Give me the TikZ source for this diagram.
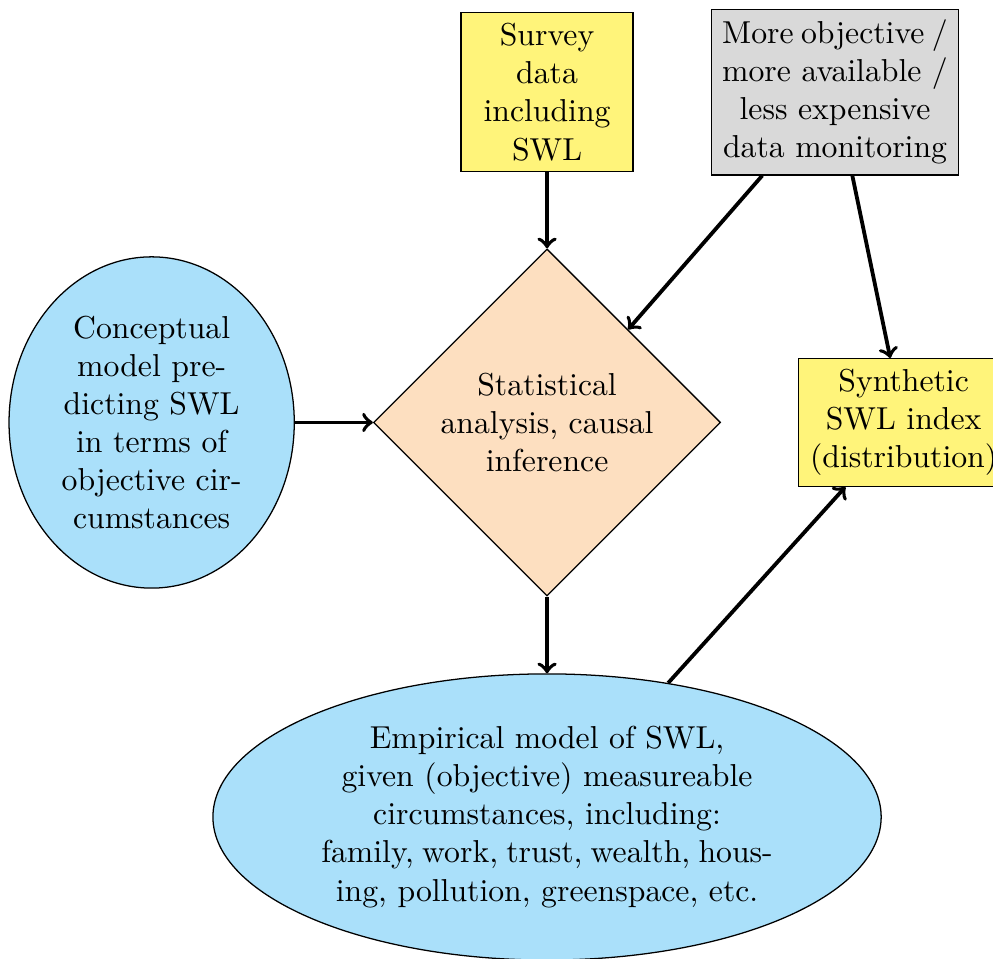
\documentclass[tikz,border=0pt]{standalone}
\usepackage{tikz}
\usepackage{xcolor}
\usetikzlibrary{shapes.geometric}
\usetikzlibrary{math}

\definecolor{swlblue}{RGB}{170,224,250}
\definecolor{swlyellow}{RGB}{255,244,122}
\definecolor{swlgray}{RGB}{217,217,217}
\definecolor{swlpeach}{RGB}{253,223,192}

\begin{document}
\begin{tikzpicture}[line width=0.4pt,
    block/.style={rectangle, draw, align=center},
    model/.style={ellipse, draw, fill=swlblue, align=center},
    decision/.style={diamond, draw, fill=swlpeach, align=center,
      text width=2.75cm, inner sep=0pt},
    squeeze/.style={execute at begin node={\spaceskip=0.3333em minus 0.1111em}},
    line/.style={->, very thick}]

  \tikzmath{
    \datay  = 3.66;  % height of the data boxes
    \leftx  = 4.38;  % distance of the conceptual model
    \indexx = 3.95;  % distance of the synthetic index
    \lowy   = 4.37;  % depth of the empirical model
  }

  % Picture frame
  \useasboundingbox (-6.06, -5.94) rectangle (4.94, 4.68);

  % Central analysis step
  \node[decision] (analysis) at (0, 0) {Statistical analysis, causal inference};

  % Data sources
  \node[block, fill=swlyellow, text width=1.67cm] (survey) at (0, \datay)
    {Survey data including SWL};
  \node[block, fill=swlgray, squeeze, text width=2.5cm] (monitor) at (3.19, \datay)
    {More objective /\\ more available /\\ less expensive\\ data monitoring};

  % Models
  \node[model, text width=2cm] (concept) at (-\leftx, 0)
    {Conceptual model predicting SWL in terms of objective circumstances};
  \node[model, squeeze, text width=5cm] (empiric) at (0, -\lowy)
    {Empirical model of SWL,\\ given (objective) measureable\\ circumstances, including:\\
     family, work, trust, wealth, hous-\\ ing, pollution, greenspace, etc.};

  % Result
  \node[block, fill=swlyellow, text width=2.1cm] (index) at (\indexx, 0)
    {Synthetic SWL index (distribution)};

  % Connections
  \draw[line] (survey) -- (analysis);
  \draw[line] (monitor) -- (analysis);
  \draw[line] (monitor) -- (index);
  \draw[line] (concept) -- (analysis);
  \draw[line] (analysis) -- (empiric);
  \draw[line] (empiric) -- (index);

\end{tikzpicture}
\end{document}
